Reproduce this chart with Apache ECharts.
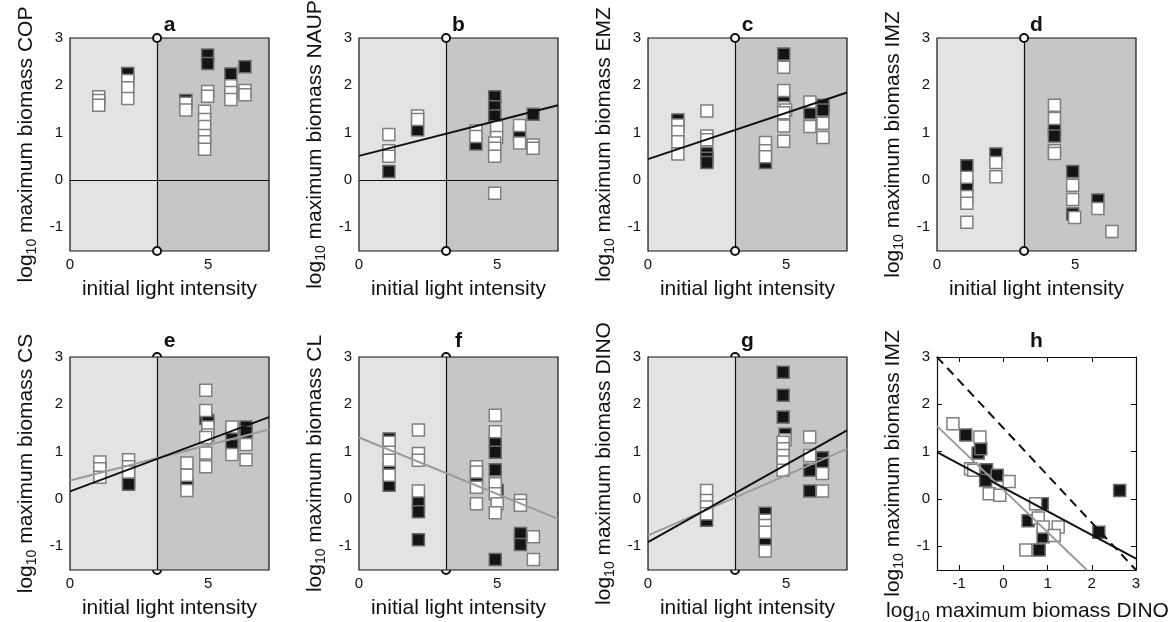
<!DOCTYPE html>
<html><head><meta charset="utf-8">
<script src="https://cdn.jsdelivr.net/npm/echarts@6/dist/echarts.min.js"></script>
<style>html,body{margin:0;padding:0;background:#fff}#c{width:1174px;height:622px}</style>
</head><body><div id="c"></div>
<script>
const FONT = '"Liberation Sans", Arial, Helvetica, sans-serif';

// ---- axis settings / tick labels ----
const lightTicks = [0, 5];
const biomassTicks = [-1, 0, 1, 2, 3];
const dinoTicks = [-1, 0, 1, 2, 3];
const lightMin = 0, lightMax = 7.2, lightThreshold = 3.15;
const bioMin = -1.5, bioMax = 3;
const panelLetters = ['a', 'b', 'c', 'd', 'e', 'f', 'g', 'h'];
const yVarNames = ['COP', 'NAUP', 'EMZ', 'IMZ', 'CS', 'CL', 'DINO', 'IMZ'];
const xLabelLight = 'initial light intensity';
const xVarH = 'DINO';

// ---- panel a: COP ----
const aWhite = [[1.04,1.76],[1.04,1.68],[1.04,1.58],[2.09,2.10],[2.09,1.95],[2.09,1.72],[4.19,1.62],[4.19,1.48],
  [4.87,1.45],[4.87,1.28],[4.87,1.13],[4.87,0.94],[4.87,0.81],[4.87,0.65],[4.98,1.87],[4.98,1.77],
  [5.82,1.99],[5.82,1.85],[5.82,1.70],[6.33,1.89],[6.33,1.80]];
const aBlack = [[2.09,2.25],[4.19,1.68],[4.98,2.64],[4.98,2.46],[5.82,2.24],[6.33,2.39]];

// ---- panel b: NAUP ----
const bWhite = [[1.08,0.96],[1.08,0.62],[1.08,0.50],[2.12,1.35],[2.12,1.28],[4.23,1.04],[4.23,0.92],
  [4.98,1.12],[4.98,0.90],[4.91,0.78],[4.91,0.67],[4.91,0.50],[4.91,-0.28],[5.81,1.15],[5.81,0.78],
  [6.30,0.74],[6.30,0.67]];
const bBlack = [[1.08,0.18],[2.12,1.06],[4.23,0.76],[4.91,1.76],[4.91,1.55],[4.91,1.35],[5.81,0.98],[6.30,1.39]];
const bFitBlack = [[0,0.51],[7.2,1.58]];

// ---- panel c: EMZ ----
const cWhite = [[1.08,1.16],[1.08,1.02],[1.08,0.81],[1.08,0.55],[2.13,1.46],[2.13,0.93],[2.13,0.85],
  [4.25,0.79],[4.25,0.62],[4.25,0.49],[4.91,2.38],[4.91,1.89],[4.91,1.53],[4.98,1.48],[4.91,1.42],
  [4.91,1.14],[4.91,0.82],[5.86,1.65],[5.86,1.13],[6.33,1.20],[6.33,0.90]];
const cBlack = [[1.08,1.27],[2.13,0.56],[2.13,0.46],[2.13,0.37],[4.25,0.37],[4.91,2.66],[4.91,1.63],
  [5.86,1.42],[6.33,1.58],[6.33,1.48]];
const cFitBlack = [[0,0.44],[7.2,1.85]];

// ---- panel d: IMZ ----
const dWhite = [[1.08,0.06],[1.08,-0.35],[1.08,-0.49],[1.08,-0.89],[2.13,0.37],[2.13,0.07],
  [4.25,1.58],[4.25,1.30],[4.25,0.62],[4.25,0.56],[4.91,-0.11],[4.91,-0.41],[4.98,-0.79],
  [5.82,-0.60],[6.33,-1.09]];
const dBlack = [[1.08,0.30],[1.08,-0.13],[2.13,0.55],[4.25,1.06],[4.25,0.93],[4.91,0.18],[4.91,-0.72],[5.82,-0.42]];

// ---- panel e: CS ----
const eWhite = [[1.08,0.78],[1.08,0.64],[1.08,0.46],[2.12,0.83],[2.12,0.68],[2.12,0.57],
  [4.23,0.76],[4.23,0.50],[4.23,0.18],[4.91,2.30],[4.91,1.87],[4.99,1.52],[4.99,1.35],[4.91,1.30],
  [4.91,0.97],[4.91,0.68],[5.86,1.52],[5.86,0.94],[6.37,1.15],[6.37,0.83]];
const eBlack = [[2.12,0.37],[2.12,0.31],[4.23,0.32],[4.91,1.70],[4.99,1.66],[5.86,1.35],[5.86,1.13],[6.37,1.52],[6.37,1.41]];
const eFitBlack = [[0,0.16],[7.2,1.73]];
const eFitGrey = [[0,0.39],[7.2,1.47]];

// ---- panel f: CL ----
const fWhite = [[1.09,1.20],[1.09,0.99],[1.09,0.82],[1.09,0.50],[2.15,1.46],[2.15,0.96],[2.15,0.82],[2.15,0.17],
  [4.25,0.68],[4.25,0.57],[4.25,0.25],[4.25,-0.10],[4.93,1.77],[4.93,1.42],[4.93,0.32],[4.93,0.11],
  [5.00,-0.10],[4.93,-0.29],[5.84,-0.03],[5.84,-0.13],[6.31,-0.80],[6.31,-1.28]];
const fBlack = [[1.09,1.27],[1.09,0.64],[1.09,0.29],[2.15,-0.06],[2.15,-0.27],[2.15,-0.86],[4.25,0.46],
  [4.93,1.20],[4.93,0.99],[4.93,0.62],[5.00,0.18],[4.93,-1.28],[5.84,-0.73],[5.84,-0.96]];
const fFitGrey = [[0,1.30],[7.2,-0.42]];

// ---- panel g: DINO ----
const gWhite = [[2.12,0.18],[2.12,-0.03],[2.12,-0.17],[2.12,-0.31],[4.24,-0.45],[4.24,-0.56],[4.24,-0.70],[4.24,-1.10],
  [4.96,1.25],[4.89,1.20],[4.89,1.06],[4.89,0.92],[4.89,0.78],[4.89,0.61],[5.85,1.31],[5.85,0.92],
  [6.31,0.54],[6.31,0.17]];
const gBlack = [[2.12,-0.45],[4.24,-0.30],[4.24,-0.87],[4.89,2.68],[4.89,2.19],[4.89,1.73],[4.96,1.37],
  [5.85,0.61],[5.85,0.17],[6.31,0.87],[6.31,0.74]];
const gFitBlack = [[0,-0.91],[7.2,1.45]];
const gFitGrey = [[0,-0.77],[7.2,1.06]];

// ---- panel h: IMZ vs DINO ----
const hWhite = [[-1.14,1.59],[-0.53,1.31],[-0.74,0.64],[-0.67,0.61],[0.13,0.37],[-0.32,0.11],[-0.08,0.08],
  [0.73,-0.10],[0.79,-0.40],[0.90,-0.59],[1.24,-0.59],[1.15,-0.77],[0.51,-1.08]];
const hBlack = [[-0.85,1.35],[-0.57,0.97],[-0.51,1.06],[-0.38,0.62],[-0.40,0.39],[-0.14,0.50],[0.88,-0.10],
  [0.56,-0.46],[0.90,-0.80],[0.81,-1.08],[2.16,-0.70],[2.63,0.18]];
const hFitBlack = [[-1.5,0.99],[3,-1.26]];
const hFitGrey = [[-1.5,1.54],[1.89,-1.5]];
const hOneToOne = [[-1.5,3],[3,-1.5]];

// ================= layout / styles =================
const GL = [70, 359, 648, 937], GT = [38, 357], GW = 199, GH = 213;
const BLACK = '#111', GREY = '#9b9b9b';
const panels = [
  {w:aWhite, b:aBlack, fits:[], zero:true},
  {w:bWhite, b:bBlack, fits:[[bFitBlack,BLACK,'solid']], zero:true},
  {w:cWhite, b:cBlack, fits:[[cFitBlack,BLACK,'solid']]},
  {w:dWhite, b:dBlack, fits:[]},
  {w:eWhite, b:eBlack, fits:[[eFitGrey,GREY,'solid'],[eFitBlack,BLACK,'solid']]},
  {w:fWhite, b:fBlack, fits:[[fFitGrey,GREY,'solid']]},
  {w:gWhite, b:gBlack, fits:[[gFitGrey,GREY,'solid'],[gFitBlack,BLACK,'solid']]},
  {w:hWhite, b:hBlack, fits:[[hFitGrey,GREY,'solid'],[hFitBlack,BLACK,'solid'],[hOneToOne,BLACK,[9,6]]]}
];
const richSub = {s:{fontSize:14, color:BLACK, fontFamily:FONT, padding:[12,0,0,0]}};
const nameStyle = {fontSize:21, color:BLACK, fontFamily:FONT, rich:richSub};
const nameStyleH = {fontSize:21, color:BLACK, fontFamily:FONT, rich:richSub, padding:[0,18,0,0]};
const labelStyle = {fontSize:15, color:BLACK, fontFamily:FONT};

const grid = [], xAxis = [], yAxis = [], series = [], graphic = [];
panels.forEach((p, i) => {
  const row = i < 4 ? 0 : 1, col = i % 4;
  const isH = i === 7;
  grid.push({left:GL[col], top:GT[row], width:GW, height:GH, containLabel:false, outerBoundsMode:'none'});
  xAxis.push({type:'value', gridIndex:i, min: isH ? bioMin : lightMin, max: isH ? bioMax : lightMax,
    name: isH ? 'log{s|10} maximum biomass ' + xVarH : xLabelLight, nameLocation:'middle', nameGap:28,
    nameTextStyle: isH ? nameStyleH : nameStyle,
    axisLine:{show:isH, onZero:false, lineStyle:{color:BLACK, width:1.2}},
    axisTick:{show:isH, inside:true, length:5, customValues:dinoTicks, lineStyle:{color:BLACK}},
    axisLabel:Object.assign({customValues: isH ? dinoTicks : lightTicks, margin:6}, labelStyle),
    splitLine:{show:false}});
  yAxis.push({type:'value', gridIndex:i, min:bioMin, max:bioMax,
    name:'log{s|10} maximum biomass ' + yVarNames[i], nameLocation:'middle', nameGap:31, nameRotate:90,
    nameTextStyle:nameStyle,
    axisLine:{show:isH, onZero:false, lineStyle:{color:BLACK, width:1.2}},
    axisTick:{show:isH, inside:true, length:5, customValues:biomassTicks, lineStyle:{color:BLACK}},
    axisLabel:Object.assign({customValues:biomassTicks, margin:7}, labelStyle),
    splitLine:{show:false}});
  graphic.push({type:'text', x:GL[col] + GW/2, y: row === 0 ? 25 : 341,
    style:{text:panelLetters[i], font:'bold 21px ' + FONT, fill:BLACK,
      textAlign:'center', textVerticalAlign:'middle', align:'center', verticalAlign:'middle'}});

  const ax = {xAxisIndex:i, yAxisIndex:i};
  if (!isH) {
    const vline = (withCircles, z) => Object.assign({type:'line', data:[], z:z, silent:true,
      markLine:{silent:true, animation:false, z:z, symbol: withCircles ? ['emptyCircle','emptyCircle'] : ['none','none'],
        symbolSize:8, label:{show:false}, lineStyle:{color:BLACK, width:1.2, type:'solid'},
        data:[[{coord:[lightThreshold, bioMin]}, {coord:[lightThreshold, bioMax]}]]}}, ax);
    if (row === 1) series.push(vline(true, 0));
    series.push(Object.assign({type:'line', data:[], z:1, silent:true,
      markArea:{silent:true, animation:false, z:1, data:[
        [{coord:[lightMin, bioMin], itemStyle:{color:'#e3e3e3'}}, {coord:[lightThreshold, bioMax]}],
        [{coord:[lightThreshold, bioMin], itemStyle:{color:'#c6c6c6'}}, {coord:[lightMax, bioMax]}]
      ]}}, ax));
    series.push(Object.assign({type:'line', data:[], z:2, silent:true,
      markArea:{silent:true, animation:false, z:2, itemStyle:{color:'rgba(0,0,0,0)', borderColor:BLACK, borderWidth:1.2},
        data:[[{coord:[lightMin, bioMin]}, {coord:[lightMax, bioMax]}]]}}, ax));
    series.push(vline(row === 0, 2));
    if (p.zero) {
      series.push(Object.assign({type:'line', data:[], z:2, silent:true,
        markLine:{silent:true, animation:false, z:2, symbol:['none','none'], label:{show:false},
          lineStyle:{color:BLACK, width:1.2, type:'solid'},
          data:[[{coord:[lightMin, 0]}, {coord:[lightMax, 0]}]]}}, ax));
    }
  } else {
    // top & right frame axes for panel h
    xAxis.push({type:'value', gridIndex:i, position:'top', min:bioMin, max:bioMax,
      axisLine:{show:true, onZero:false, lineStyle:{color:BLACK, width:1.2}},
      axisTick:{show:true, inside:true, length:5, customValues:dinoTicks, lineStyle:{color:BLACK}},
      axisLabel:{show:false}, splitLine:{show:false}});
    yAxis.push({type:'value', gridIndex:i, position:'right', min:bioMin, max:bioMax,
      axisLine:{show:true, onZero:false, lineStyle:{color:BLACK, width:1.2}},
      axisTick:{show:true, inside:true, length:5, customValues:biomassTicks, lineStyle:{color:BLACK}},
      axisLabel:{show:false}, splitLine:{show:false}});
  }
  series.push(Object.assign({type:'scatter', z:3, symbol:'rect', symbolSize:12, data:p.b, silent:true,
    itemStyle:{color:'#141414', borderColor:'#6a6a6a', borderWidth:1.5, opacity:1}}, ax));
  series.push(Object.assign({type:'scatter', z:3, symbol:'rect', symbolSize:12, data:p.w, silent:true,
    itemStyle:{color:'#ffffff', borderColor:'#7f7f7f', borderWidth:1.5, opacity:1}}, ax));
  p.fits.forEach(f => {
    series.push(Object.assign({type:'line', z:4, data:f[0], symbol:'none', showSymbol:false, silent:true,
      lineStyle:{color:f[1], width:2, type:f[2]}}, ax));
  });
});

const chart = echarts.init(document.getElementById('c'), null, {renderer:'canvas'});
chart.setOption({animation:false, backgroundColor:'#fff', grid, xAxis, yAxis, series, graphic});
</script></body></html>
